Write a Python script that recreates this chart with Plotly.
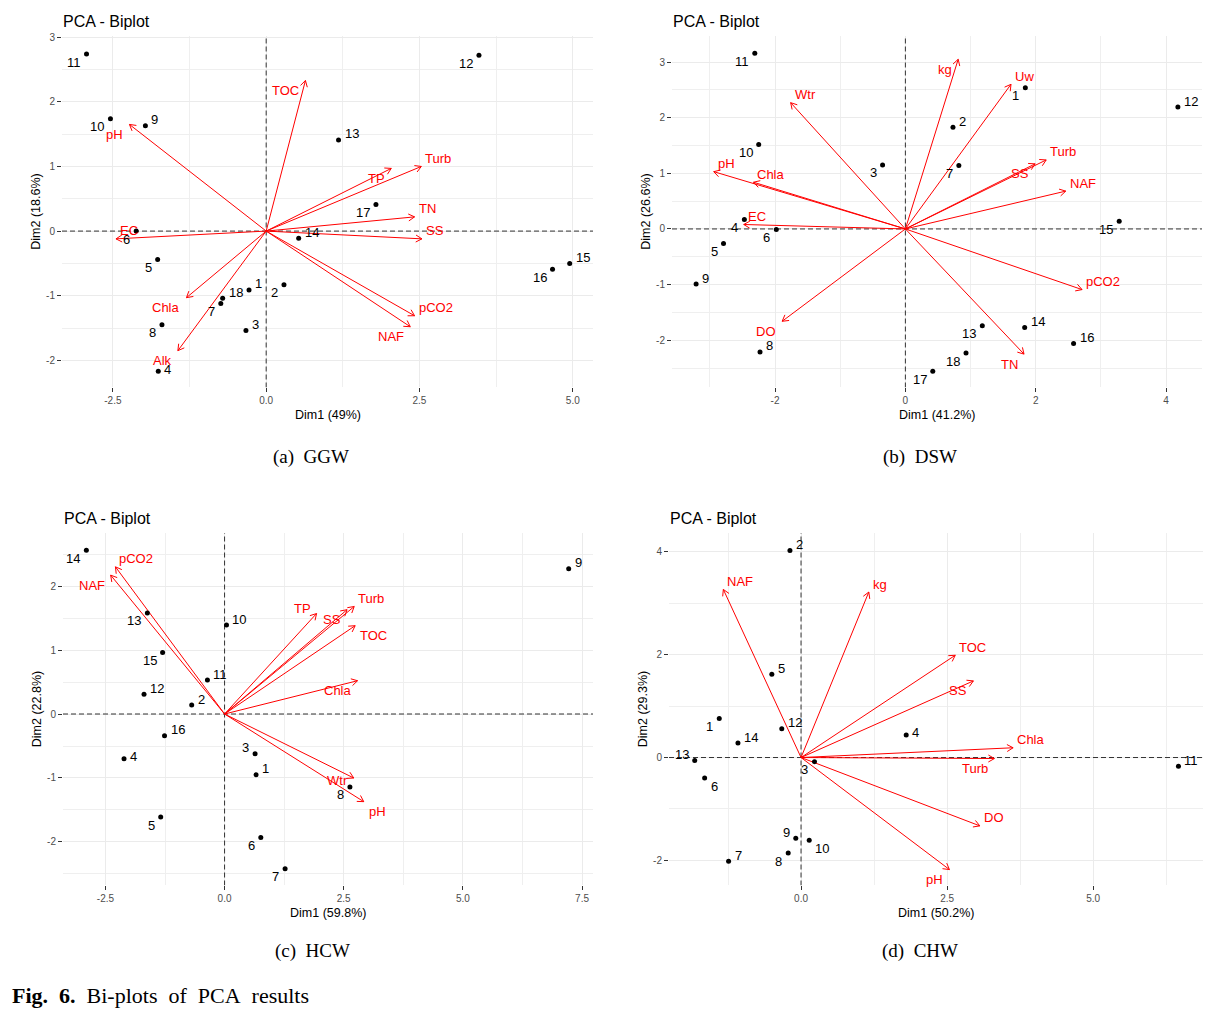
import math
import plotly.graph_objects as go

# ---------------- (a) GGW ----------------
ggw_ids = ["1", "2", "3", "4", "5", "6", "7", "8", "9", "10", "11", "12", "13", "14", "15", "16", "17", "18"]
ggw_x = [-0.28, 0.29, -0.33, -1.76, -1.77, -2.12, -0.74, -1.70, -1.97, -2.54, -2.93, 3.47, 1.18, 0.53, 4.95, 4.67, 1.79, -0.71]
ggw_y = [-0.91, -0.83, -1.54, -2.17, -0.44, 0.00, -1.12, -1.45, 1.63, 1.74, 2.74, 2.72, 1.41, -0.11, -0.50, -0.59, 0.41, -1.04]
ggw_vars = ["TOC", "pH", "EC", "Chla", "Alk", "Turb", "TP", "TN", "SS", "pCO2", "NAF"]
ggw_vx = [0.64, -2.23, -2.45, -1.30, -1.44, 2.53, 2.04, 2.42, 2.54, 2.42, 2.35]
ggw_vy = [2.33, 1.65, -0.12, -1.03, -1.85, 1.00, 0.97, 0.22, -0.12, -1.31, -1.48]
ggw_xticks = [-2.5, 0.0, 2.5, 5.0]
ggw_yticks = [-2, -1, 0, 1, 2, 3]

# ---------------- (b) DSW ----------------
dsw_ids = ["1", "2", "3", "4", "5", "6", "7", "8", "9", "10", "11", "12", "13", "14", "15", "16", "17", "18"]
dsw_x = [1.84, 0.73, -0.35, -2.47, -2.79, -1.98, 0.82, -2.23, -3.21, -2.25, -2.31, 4.18, 1.18, 1.83, 3.28, 2.58, 0.42, 0.93]
dsw_y = [2.54, 1.83, 1.15, 0.17, -0.26, -0.01, 1.14, -2.21, -0.99, 1.52, 3.16, 2.19, -1.74, -1.77, 0.14, -2.06, -2.56, -2.23]
dsw_vars = ["Wtr", "pH", "Chla", "EC", "DO", "kg", "Uw", "Turb", "SS", "NAF", "pCO2", "TN"]
dsw_vx = [-1.76, -2.94, -2.33, -2.48, -1.89, 0.81, 1.62, 2.16, 1.99, 2.46, 2.71, 1.82]
dsw_vy = [2.27, 1.03, 0.84, 0.08, -1.66, 3.05, 2.60, 1.24, 1.17, 0.68, -1.09, -2.25]
dsw_xticks = [-2, 0, 2, 4]
dsw_yticks = [-2, -1, 0, 1, 2, 3]

# ---------------- (c) HCW ----------------
hcw_ids = ["1", "2", "3", "4", "5", "6", "7", "8", "9", "10", "11", "12", "13", "14", "15", "16"]
hcw_x = [0.66, -0.69, 0.64, -2.11, -1.34, 0.76, 1.27, 2.63, 7.22, 0.04, -0.36, -1.69, -1.62, -2.90, -1.30, -1.26]
hcw_y = [-0.95, 0.14, -0.62, -0.70, -1.61, -1.93, -2.42, -1.14, 2.27, 1.39, 0.53, 0.31, 1.58, 2.56, 0.96, -0.34]
hcw_vars = ["pCO2", "NAF", "TP", "Turb", "SS", "TOC", "Chla", "Wtr", "pH"]
hcw_vx = [-2.29, -2.39, 1.93, 2.72, 2.57, 2.74, 2.79, 2.71, 2.92]
hcw_vy = [2.30, 2.17, 1.57, 1.68, 1.63, 1.38, 0.52, -1.00, -1.37]
hcw_xticks = [-2.5, 0.0, 2.5, 5.0, 7.5]
hcw_yticks = [-2, -1, 0, 1, 2]

# ---------------- (d) CHW ----------------
chw_ids = ["1", "2", "3", "4", "5", "6", "7", "8", "9", "10", "11", "12", "13", "14"]
chw_x = [-1.40, -0.19, 0.23, 1.80, -0.50, -1.65, -1.24, -0.22, -0.09, 0.14, 6.46, -0.33, -1.82, -1.08]
chw_y = [0.76, 4.03, -0.08, 0.44, 1.62, -0.40, -2.02, -1.86, -1.57, -1.61, -0.17, 0.56, -0.06, 0.28]
chw_vars = ["NAF", "kg", "TOC", "SS", "Chla", "Turb", "DO", "pH"]
chw_vx = [-1.33, 1.16, 2.64, 2.95, 3.63, 3.31, 3.06, 2.54]
chw_vy = [3.27, 3.22, 1.99, 1.49, 0.19, -0.02, -1.33, -2.18]
chw_xticks = [0.0, 2.5, 5.0]
chw_yticks = [-2, 0, 2, 4]

# the page puts the figure a few px in from the corner, so lay out in page px
PADX, PADY = 8, 10
W, H = 1227 - 2 * PADX, 1021 - 2 * PADY
FONT = "Liberation Sans, Arial, sans-serif"
SERIF = "Liberation Serif, Times New Roman, serif"


def fx(px):
    return (px - PADX) / W


def fy(py):
    return 1 - (py - PADY) / H


panels = [
    dict(ids=ggw_ids, x=ggw_x, y=ggw_y, vars=ggw_vars, vx=ggw_vx, vy=ggw_vy,
         xt=ggw_xticks, yt=ggw_yticks, fmt="{:.1f}",
         dim1="Dim1 (49%)", dim2="Dim2 (18.6%)", caption="(a)\u00a0\u00a0GGW", cap=(311, 457),
         px=(62, 593), py=(34, 387), xr=[-3.33, 5.33], yr=[-2.42, 3.02],
         lpos=["tr", "bl", "tr", "mr", "bl", "bl", "bl", "bl", "tr", "bl", "bl", "bl", "tr", "tr", "tr", "bl", "bl", "tr"],
         vpos=["bl", "bl", "tr", "bl", "bl", "tr", "bl", "tr", "tr", "tr", "bl"]),
    dict(ids=dsw_ids, x=dsw_x, y=dsw_y, vars=dsw_vars, vx=dsw_vx, vy=dsw_vy,
         xt=dsw_xticks, yt=dsw_yticks, fmt="{:d}",
         dim1="Dim1 (41.2%)", dim2="Dim2 (26.6%)", caption="(b)\u00a0\u00a0DSW", cap=(920, 457),
         px=(672, 1202), py=(34, 387), xr=[-3.58, 4.55], yr=[-2.85, 3.47],
         lpos=["bl", "tr", "bl", "bl", "bl", "bl", "bl", "tr", "tr", "bl", "bl", "tr", "bl", "tr", "bl", "tr", "bl", "bl"],
         vpos=["tr", "tr", "tr", "tr", "bl", "bl", "tr", "tr", "bl", "tr", "tr", "bl"]),
    dict(ids=hcw_ids, x=hcw_x, y=hcw_y, vars=hcw_vars, vx=hcw_vx, vy=hcw_vy,
         xt=hcw_xticks, yt=hcw_yticks, fmt="{:.1f}",
         dim1="Dim1 (59.8%)", dim2="Dim2 (22.8%)", caption="(c)\u00a0\u00a0HCW", cap=(312, 953),
         px=(63, 593), py=(533, 887), xr=[-3.39, 7.73], yr=[-2.68, 2.83],
         lpos=["tr", "tr", "tl", "mr", "bl", "bl", "bl", "bl", "tr", "tr", "tr", "tr", "bl", "bl", "bl", "tr"],
         vpos=["tr", "bl", "tl", "tr", "bl", "br", "bl", "ml", "br"]),
    dict(ids=chw_ids, x=chw_x, y=chw_y, vars=chw_vars, vx=chw_vx, vy=chw_vy,
         xt=chw_xticks, yt=chw_yticks, fmt="{:.1f}",
         dim1="Dim1 (50.2%)", dim2="Dim2 (29.3%)", caption="(d)\u00a0\u00a0CHW", cap=(920, 953),
         px=(669, 1203), py=(533, 887), xr=[-2.26, 6.88], yr=[-2.49, 4.37],
         lpos=["bl", "tr", "bl", "mr", "tr", "br", "tr", "bl", "tl", "br", "tr", "tr", "tl", "tr"],
         vpos=["tr", "tr", "tr", "bl", "tr", "bl", "tr", "bl"]),
]

OFFS = {
    "tr": ("left", 4, 6), "bl": ("right", -4, -8), "tl": ("right", -4, 6),
    "br": ("left", 4, -8), "mr": ("left", 4, 2), "ml": ("right", -4, -2),
}
VOFFS = {
    "tr": ("left", 2, 8), "bl": ("right", -4, -10), "tl": ("right", -4, 5),
    "br": ("left", 3, -10), "mr": ("left", 3, 2), "ml": ("right", -4, -3),
}


def minor_of(ticks):
    step = ticks[1] - ticks[0]
    return [ticks[0] - step / 2] + [t + step / 2 for t in ticks]


fig = go.Figure()
annotations = []

for i, p in enumerate(panels):
    s = "" if i == 0 else str(i + 1)
    xa, ya = "x" + s, "y" + s
    wpx = p["px"][1] - p["px"][0]
    hpx = p["py"][1] - p["py"][0]
    sx = wpx / (p["xr"][1] - p["xr"][0])
    sy = hpx / (p["yr"][1] - p["yr"][0])

    # dashed reference lines through the origin
    fig.add_trace(go.Scatter(x=[0, 0, None, p["xr"][0], p["xr"][1]], y=[p["yr"][0], p["yr"][1], None, 0, 0],
                             mode="lines", xaxis=xa, yaxis=ya, hoverinfo="skip",
                             line=dict(color="#333333", width=1, dash="5px,3px")))

    # variable arrows with open heads (30 deg, 7 px)
    ax_, ay_ = [], []
    for vx, vy in zip(p["vx"], p["vy"]):
        ang = math.atan2(vy * sy, vx * sx)
        h1 = ang + math.pi - math.radians(30)
        h2 = ang + math.pi + math.radians(30)
        ax_ += [0, vx, None, vx + 7 * math.cos(h1) / sx, vx, vx + 7 * math.cos(h2) / sx, None]
        ay_ += [0, vy, None, vy + 7 * math.sin(h1) / sy, vy, vy + 7 * math.sin(h2) / sy, None]
    fig.add_trace(go.Scatter(x=ax_, y=ay_, mode="lines", xaxis=xa, yaxis=ya,
                             line=dict(color="#FF0000", width=1), hoverinfo="skip"))

    fig.add_trace(go.Scatter(x=p["x"], y=p["y"], mode="markers", xaxis=xa, yaxis=ya,
                             marker=dict(color="black", size=5), text=p["ids"]))

    for lab, x, y, code in zip(p["ids"], p["x"], p["y"], p["lpos"]):
        anc, xs, ys = OFFS[code]
        annotations.append(dict(x=x, y=y, xref=xa, yref=ya, text=lab, showarrow=False,
                                xanchor=anc, yanchor="middle", xshift=xs, yshift=ys,
                                font=dict(family=FONT, size=13, color="black")))
    for lab, x, y, code in zip(p["vars"], p["vx"], p["vy"], p["vpos"]):
        anc, xs, ys = VOFFS[code]
        annotations.append(dict(x=x, y=y, xref=xa, yref=ya, text=lab, showarrow=False,
                                xanchor=anc, yanchor="middle", xshift=xs, yshift=ys,
                                font=dict(family=FONT, size=13, color="#FF0000")))

    # titles, axis titles, caption
    annotations.append(dict(x=0, y=1, xref=xa + " domain", yref=ya + " domain", text="PCA - Biplot",
                            showarrow=False, xanchor="left", yanchor="middle", yshift=14, xshift=-1,
                            font=dict(family=FONT, size=16, color="black")))
    annotations.append(dict(x=0.5, y=0, xref=xa + " domain", yref=ya + " domain", text=p["dim1"],
                            showarrow=False, xanchor="center", yanchor="middle", yshift=-28,
                            font=dict(family=FONT, size=12.5, color="black")))
    annotations.append(dict(x=0, y=0.5, xref=xa + " domain", yref=ya + " domain", text=p["dim2"],
                            showarrow=False, xanchor="center", yanchor="middle", xshift=-26,
                            textangle=-90, font=dict(family=FONT, size=12.5, color="black")))
    annotations.append(dict(x=fx(p["cap"][0]), y=fy(p["cap"][1]), xref="paper", yref="paper",
                            text=p["caption"], showarrow=False, xanchor="center", yanchor="middle",
                            font=dict(family=SERIF, size=19, color="black")))

    common = dict(showgrid=True, gridcolor="#EBEBEB", gridwidth=1.1, zeroline=False, showline=False,
                  ticks="outside", ticklen=4, tickwidth=1, tickcolor="#333",
                  tickfont=dict(family=FONT, size=10, color="#4D4D4D"), tickmode="array")
    fig.update_layout(**{
        "xaxis" + s: dict(common, domain=[fx(p["px"][0]), fx(p["px"][1])], range=p["xr"], anchor=ya,
                          tickvals=p["xt"], ticktext=[p["fmt"].format(v) for v in p["xt"]],
                          minor=dict(tickmode="array", tickvals=minor_of(p["xt"]), showgrid=True,
                                     gridcolor="#EFEFEF", gridwidth=0.6)),
        "yaxis" + s: dict(common, domain=[fy(p["py"][1]), fy(p["py"][0])], range=p["yr"], anchor=xa,
                          tickvals=p["yt"], ticktext=["{:d}".format(v) for v in p["yt"]],
                          minor=dict(tickmode="array", tickvals=minor_of(p["yt"]), showgrid=True,
                                     gridcolor="#EFEFEF", gridwidth=0.6)),
    })

annotations.append(dict(x=fx(10), y=fy(997), xref="paper", yref="paper",
                        text="<b>Fig.\u00a0\u00a06.</b>\u00a0\u00a0Bi-plots\u00a0\u00a0of\u00a0\u00a0PCA\u00a0\u00a0results",
                        showarrow=False, xanchor="left", yanchor="middle",
                        font=dict(family=SERIF, size=22, color="black")))

fig.update_layout(width=W, height=H, margin=dict(l=0, r=0, t=0, b=0),
                  paper_bgcolor="white", plot_bgcolor="white", showlegend=False,
                  annotations=annotations)

fig.write_html("out.html")
